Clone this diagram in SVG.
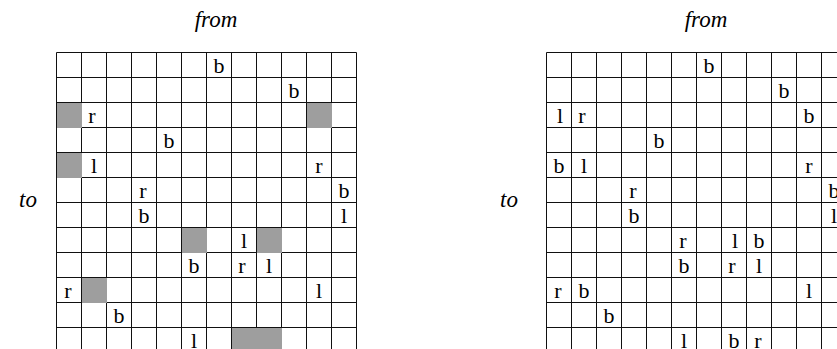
<svg xmlns="http://www.w3.org/2000/svg" width="837" height="349" viewBox="0 0 837 349">
<style>
.grid{fill:none;stroke:#111;stroke-width:1}
.shade{fill:#9e9e9e}
.t{font-family:"Liberation Serif","Times New Roman",serif;font-size:22px;text-anchor:middle;fill:#000}
.lab{font-family:"Liberation Serif","Times New Roman",serif;font-size:23px;font-style:italic;fill:#000}
</style>
<rect width="837" height="349" fill="#fff"/>
<g id="labels">
<text class="lab" x="216" y="27" text-anchor="middle">from</text>
<text class="lab" x="706" y="27" text-anchor="middle">from</text>
<text class="lab" x="28" y="207" text-anchor="middle">to</text>
<text class="lab" x="509" y="207" text-anchor="middle">to</text>
</g>
<g id="left-grid">
<path class="grid" d="M56.5 52.5V352.5M81.5 52.5V352.5M106.5 52.5V352.5M131.5 52.5V352.5M156.5 52.5V352.5M181.5 52.5V352.5M206.5 52.5V352.5M231.5 52.5V352.5M256.5 52.5V352.5M281.5 52.5V352.5M306.5 52.5V352.5M331.5 52.5V352.5M356.5 52.5V352.5M56.5 52.5H356.5M56.5 77.5H356.5M56.5 102.5H356.5M56.5 127.5H356.5M56.5 152.5H356.5M56.5 177.5H356.5M56.5 202.5H356.5M56.5 227.5H356.5M56.5 252.5H356.5M56.5 277.5H356.5M56.5 302.5H356.5M56.5 327.5H356.5M56.5 352.5H356.5"/>
<g id="left-shaded">
<rect class="shade" x="57" y="103" width="25" height="25"/>
<rect class="shade" x="307" y="103" width="25" height="25"/>
<rect class="shade" x="57" y="153" width="25" height="25"/>
<rect class="shade" x="182" y="228" width="25" height="25"/>
<rect class="shade" x="257" y="228" width="25" height="25"/>
<rect class="shade" x="82" y="278" width="25" height="25"/>
<rect class="shade" x="232" y="328" width="50" height="25"/>
</g>
<g id="left-letters">
<text class="t" x="219" y="73">b</text>
<text class="t" x="294" y="98">b</text>
<text class="t" x="92" y="123">r</text>
<text class="t" x="169" y="148">b</text>
<text class="t" x="94" y="173">l</text>
<text class="t" x="319" y="173">r</text>
<text class="t" x="143" y="198">r</text>
<text class="t" x="344" y="198">b</text>
<text class="t" x="144" y="223">b</text>
<text class="t" x="344" y="223">l</text>
<text class="t" x="244" y="248">l</text>
<text class="t" x="194" y="273">b</text>
<text class="t" x="242" y="273">r</text>
<text class="t" x="269" y="273">l</text>
<text class="t" x="68" y="298">r</text>
<text class="t" x="319" y="298">l</text>
<text class="t" x="119" y="323">b</text>
<text class="t" x="194" y="348">l</text>
</g>
</g>
<g id="right-grid">
<path class="grid" d="M546.5 52.5V352.5M571.5 52.5V352.5M596.5 52.5V352.5M621.5 52.5V352.5M646.5 52.5V352.5M671.5 52.5V352.5M696.5 52.5V352.5M721.5 52.5V352.5M746.5 52.5V352.5M771.5 52.5V352.5M796.5 52.5V352.5M821.5 52.5V352.5M846.5 52.5V352.5M546.5 52.5H846.5M546.5 77.5H846.5M546.5 102.5H846.5M546.5 127.5H846.5M546.5 152.5H846.5M546.5 177.5H846.5M546.5 202.5H846.5M546.5 227.5H846.5M546.5 252.5H846.5M546.5 277.5H846.5M546.5 302.5H846.5M546.5 327.5H846.5M546.5 352.5H846.5"/>
<g id="right-letters">
<text class="t" x="709" y="73">b</text>
<text class="t" x="784" y="98">b</text>
<text class="t" x="560" y="123">l</text>
<text class="t" x="582" y="123">r</text>
<text class="t" x="809" y="123">b</text>
<text class="t" x="659" y="148">b</text>
<text class="t" x="559" y="173">b</text>
<text class="t" x="584" y="173">l</text>
<text class="t" x="809" y="173">r</text>
<text class="t" x="633" y="198">r</text>
<text class="t" x="834" y="198">b</text>
<text class="t" x="634" y="223">b</text>
<text class="t" x="834" y="223">l</text>
<text class="t" x="683" y="248">r</text>
<text class="t" x="735" y="248">l</text>
<text class="t" x="759" y="248">b</text>
<text class="t" x="684" y="273">b</text>
<text class="t" x="732" y="273">r</text>
<text class="t" x="759" y="273">l</text>
<text class="t" x="558" y="298">r</text>
<text class="t" x="584" y="298">b</text>
<text class="t" x="809" y="298">l</text>
<text class="t" x="609" y="323">b</text>
<text class="t" x="684" y="348">l</text>
<text class="t" x="734" y="348">b</text>
<text class="t" x="758" y="348">r</text>
</g>
</g>
</svg>
